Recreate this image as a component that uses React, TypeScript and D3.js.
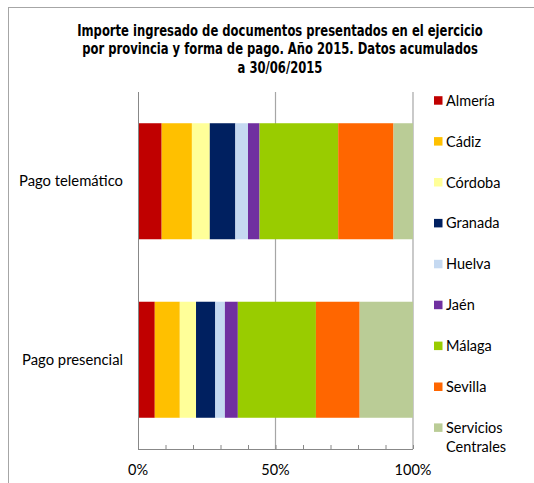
import React, { useEffect, useRef } from 'react'
import * as d3 from 'd3'

const categories = ['Pago telemático', 'Pago presencial']
const provinces = ['Almería', 'Cádiz', 'Córdoba', 'Granada', 'Huelva', 'Jaén', 'Málaga', 'Sevilla', 'Servicios Centrales']
const telematico = [8.6, 11.0, 6.5, 9.3, 4.6, 4.2, 28.6, 20.1, 7.1]
const presencial = [6.1, 9.1, 5.9, 7.0, 3.5, 4.7, 28.4, 15.9, 19.4]
const colors = ['#C00000', '#FFC000', '#FFFF99', '#002060', '#C5D9F1', '#7030A0', '#99CC00', '#FF6600', '#BACC96']
const titleLines = [
  'Importe ingresado de documentos presentados en el ejercicio',
  'por provincia y forma de pago. Año 2015. Datos acumulados',
  'a 30/06/2015',
]
const xTicks = [0, 0.5, 1]

const App = () => {
  const ref = useRef<SVGSVGElement>(null)

  useEffect(() => {
    const svg = d3.select(ref.current)
    svg.selectAll('*').remove()

    const left = 138
    const right = 413
    const top = 92
    const bottom = 449
    const font = 'Lato, "Open Sans", sans-serif'

    // frame
    svg.append('rect')
      .attr('x', 8.5).attr('y', 7.5)
      .attr('width', 560).attr('height', 520)
      .attr('fill', 'none').attr('stroke', '#A6A6A6')

    // title, condensed font squeezed a bit more horizontally
    svg.append('g')
      .selectAll('text')
      .data(titleLines)
      .enter()
      .append('text')
      .attr('transform', (d, i) => `translate(280, ${35.5 + i * 18.6}) scale(0.86, 1)`)
      .attr('text-anchor', 'middle')
      .style('font-family', '"Liberation Sans Narrow", "DejaVu Sans Condensed", sans-serif')
      .style('font-weight', 'bold')
      .style('font-size', '15px')
      .text(d => d)

    const rows = categories.map((c, i) => {
      const vals = i === 0 ? telematico : presencial
      const total = d3.sum(vals)
      const row: any = { cat: c }
      provinces.forEach((p, j) => { row[p] = vals[j] / total })
      return row
    })

    const x = d3.scaleLinear().domain([0, 1]).range([left, right])
    const y = d3.scaleBand().domain(categories).range([top, bottom]).paddingInner(0.35).paddingOuter(0.175)

    // gridlines
    svg.append('g')
      .selectAll('line')
      .data(xTicks.slice(1))
      .enter()
      .append('line')
      .attr('x1', d => x(d)).attr('x2', d => x(d))
      .attr('y1', top).attr('y2', bottom)
      .attr('stroke', '#A6A6A6')
      .attr('stroke-width', 1.2)

    const stack = d3.stack().keys(provinces)(rows)

    svg.append('g')
      .selectAll('g')
      .data(stack)
      .enter()
      .append('g')
      .attr('fill', (d, i) => colors[i])
      .selectAll('rect')
      .data(d => d)
      .enter()
      .append('rect')
      .attr('x', d => x(d[0]))
      .attr('width', d => x(d[1]) - x(d[0]))
      .attr('y', (d: any) => y(d.data.cat)!)
      .attr('height', y.bandwidth())

    // axes
    const xAxis = svg.append('g')
      .attr('transform', `translate(0, ${bottom})`)
      .call(d3.axisTop(x).ticks(10).tickSize(4).tickFormat(() => ''))
    xAxis.select('.domain').remove()
    xAxis.selectAll('line').attr('stroke', '#888')

    svg.append('line')
      .attr('x1', left).attr('x2', right)
      .attr('y1', bottom + 0.5).attr('y2', bottom + 0.5)
      .attr('stroke', '#888')
    svg.append('line')
      .attr('x1', left + 0.5).attr('x2', left + 0.5)
      .attr('y1', top).attr('y2', bottom)
      .attr('stroke', '#888')

    svg.append('g')
      .selectAll('text')
      .data(xTicks)
      .enter()
      .append('text')
      .attr('x', d => x(d))
      .attr('y', 475)
      .attr('text-anchor', 'middle')
      .style('font-family', font)
      .style('font-size', '14.5px')
      .text(d => d3.format('.0%')(d))

    svg.append('g')
      .selectAll('text')
      .data(categories)
      .enter()
      .append('text')
      .attr('x', 123)
      .attr('y', d => y(d)! + y.bandwidth() / 2 + 5)
      .attr('text-anchor', 'end')
      .style('font-family', font)
      .style('font-size', '14.8px')
      .text(d => d)

    // legend
    const legend = svg.append('g')
      .selectAll('g')
      .data(provinces)
      .enter()
      .append('g')
      .attr('transform', (d, i) => `translate(434, ${100.7 + i * 40.9})`)

    legend.append('rect')
      .attr('x', 0).attr('y', -4.5)
      .attr('width', 8.5).attr('height', 8.5)
      .attr('fill', (d, i) => colors[i])

    legend.append('text')
      .attr('x', 12)
      .attr('y', 5)
      .style('font-family', font)
      .style('font-size', '14.5px')
      .selectAll('tspan')
      .data(d => d.split(' '))
      .enter()
      .append('tspan')
      .attr('x', 12)
      .attr('dy', (d, i) => (i === 0 ? 0 : 19))
      .text(d => d)
  }, [])

  return <svg ref={ref} width={534} height={483} style={{ position: 'absolute', left: 0, top: 0 }}></svg>
}

export default App
